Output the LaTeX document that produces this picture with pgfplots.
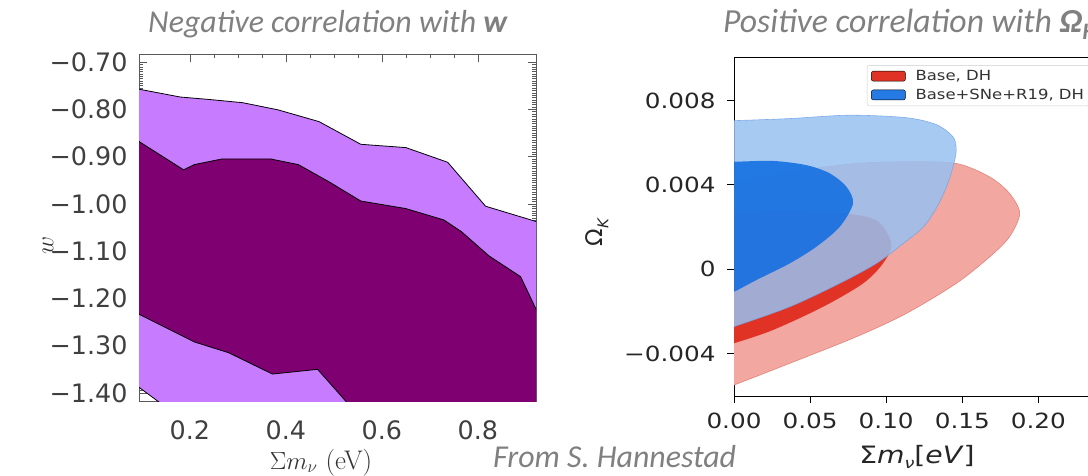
\documentclass[border=0pt]{standalone}
\usepackage{pgfplots}
\pgfplotsset{compat=1.18}
\usepackage{fontspec}
\setmainfont{Carlito}
\newfontfamily\carl{Carlito}
\newfontfamily\dv{DejaVu Sans}
\newfontfamily\dvw[FakeStretch=1.18]{DejaVu Sans}
\newfontfamily\lmr{Latin Modern Roman}
\definecolor{lpurp}{RGB}{199,123,255}
\definecolor{dpurp}{RGB}{127,0,112}
\definecolor{tgray}{RGB}{128,128,128}
\definecolor{lred}{RGB}{242,167,160}
\definecolor{lrededge}{RGB}{228,130,122}
\definecolor{dred}{RGB}{225,51,37}
\definecolor{lblue}{RGB}{152,193,241}
\definecolor{lblueedge}{RGB}{110,160,230}
\definecolor{dblue}{RGB}{13,107,225}
\begin{document}
\begin{tikzpicture}
\path[use as bounding box] (0bp,0bp) rectangle (1088bp,476bp);
\clip (0bp,0bp) rectangle (1088bp,476bp);

% ---------------- left panel ----------------
\begin{axis}[
  at={(139bp,75bp)}, anchor=south west,
  scale only axis, width=397bp, height=347bp,
  xmin=0.094, xmax=0.921, ymin=-1.417, ymax=-0.683,
  axis line style={draw=black!65, line width=0.6pt},
  tick align=inside,
  xtick={0.2,0.4,0.6,0.8},
  xticklabels={0.2,0.4,0.6,0.8},
  minor x tick num=3,
  ytick={-1.4,-1.3,-1.2,-1.1,-1.0,-0.9,-0.8,-0.7},
  yticklabels={−1.40,−1.30,−1.20,−1.10,−1.00,−0.90,−0.80,−0.70},
  minor y tick num=19,
  major tick length=8bp, minor tick length=4bp,
  tick style={black!65, line width=0.5pt},
  ticklabel style={font=\dv\fontsize{25.5}{25.5}\selectfont, text=black!75},
  xticklabel style={yshift=-16bp},
  yticklabel style={xshift=-8bp},
]
\addplot[fill=lpurp, draw=none] coordinates {
 (0.09,-0.756) (0.097,-0.758) (0.18,-0.774) (0.238,-0.779) (0.31,-0.786)
 (0.383,-0.801) (0.469,-0.826) (0.556,-0.874) (0.65,-0.881) (0.737,-0.912)
 (0.816,-1.005) (0.93,-1.040) (0.93,-1.43) (0.150,-1.43) (0.09,-1.385)} -- cycle;
\addplot[fill=dpurp, draw=none] coordinates {
 (0.09,-0.8655) (0.097,-0.870) (0.187,-0.928) (0.209,-0.917) (0.267,-0.905)
 (0.368,-0.905) (0.426,-0.917) (0.491,-0.954) (0.556,-0.994) (0.65,-1.010)
 (0.729,-1.034) (0.766,-1.059) (0.823,-1.110) (0.889,-1.154) (0.923,-1.227)
 (0.93,-1.242) (0.93,-1.43) (0.532,-1.43) (0.527,-1.42) (0.466,-1.350)
 (0.372,-1.360) (0.281,-1.315) (0.209,-1.292) (0.097,-1.235) (0.09,-1.232)} -- cycle;
\addplot[black, line width=0.8pt] coordinates {
 (0.09,-0.756) (0.097,-0.758) (0.18,-0.774) (0.238,-0.779) (0.31,-0.786)
 (0.383,-0.801) (0.469,-0.826) (0.556,-0.874) (0.65,-0.881) (0.737,-0.912)
 (0.816,-1.005) (0.93,-1.040)};
\addplot[black, line width=0.8pt] coordinates {
 (0.09,-0.8655) (0.097,-0.870) (0.187,-0.928) (0.209,-0.917) (0.267,-0.905)
 (0.368,-0.905) (0.426,-0.917) (0.491,-0.954) (0.556,-0.994) (0.65,-1.010)
 (0.729,-1.034) (0.766,-1.059) (0.823,-1.110) (0.889,-1.154) (0.923,-1.227)
 (0.93,-1.242)};
\addplot[black, line width=0.8pt] coordinates {
 (0.09,-1.232) (0.097,-1.235) (0.209,-1.292) (0.281,-1.315) (0.372,-1.360)
 (0.466,-1.350) (0.527,-1.42) (0.532,-1.43)};
\addplot[black, line width=0.8pt] coordinates {(0.09,-1.385) (0.150,-1.43)};
\end{axis}

% ---------------- right panel ----------------
\begin{axis}[
  at={(734bp,80bp)}, anchor=south west,
  scale only axis, width=380.5bp, height=339bp,
  xmin=0, xmax=0.25, ymin=-6.02, ymax=10.06,
  axis line style={draw=black, line width=0.9pt},
  tick align=outside, tick pos=left,
  xtick={0,0.05,0.1,0.15,0.2},
  xticklabels={0.00,0.05,0.10,0.15,0.20},
  ytick={-4,0,4,8},
  yticklabels={−0.004,0,0.004,0.008},
  major tick length=7bp,
  tick style={black, line width=0.8pt},
  ticklabel style={font=\dvw\fontsize{21}{21}\selectfont, text=black!85},
  xticklabel style={yshift=-6bp},
  yticklabel style={xshift=-8bp},
  legend style={at={(axis description cs:0.3495,0.976)}, anchor=north west,
    draw=black!20, rounded corners=2bp, fill=white,
    font=\dvw\fontsize{14}{14}\selectfont, text=black!80,
    inner xsep=3bp, inner ysep=3bp, row sep=3bp, cells={anchor=west}},
  legend image code/.code={\fill[#1] (0bp,-5bp) rectangle (34bp,5bp); \path (-1bp,0bp) (42bp,0bp);},
]
\addplot[fill=lred, draw=lrededge, line width=0.6pt, smooth, tension=0.5, forget plot] coordinates {
 (-0.01,4.10) (0,4.14) (0.0366,4.61) (0.0804,5.01) (0.1133,5.09) (0.146,5.01)
 (0.168,4.37) (0.181,3.59) (0.1877,2.64) (0.181,1.53) (0.168,0.58) (0.146,-0.68)
 (0.1133,-2.10) (0.0804,-3.21) (0.0366,-4.47) (0,-5.5) (-0.01,-5.75)};
\addplot[fill=dred, draw=none, smooth, tension=0.5, forget plot] coordinates {
 (-0.01,2.71) (0,2.72) (0.0366,2.76) (0.0694,2.67) (0.0936,2.32) (0.1034,1.22)
 (0.0979,0.27) (0.0848,-0.68) (0.0585,-1.79) (0.0256,-2.89) (0,-3.52) (-0.01,-3.7)};
\addplot[fill=lblue, fill opacity=0.85, draw=lblueedge, draw opacity=0.8, line width=0.6pt, smooth, tension=0.5, forget plot] coordinates {
 (-0.01,7.02) (0,7.04) (0.0366,7.14) (0.076,7.3) (0.1133,7.18) (0.133,6.85)
 (0.1439,6.27) (0.146,5.64) (0.1439,4.85) (0.1396,3.9) (0.133,2.9) (0.1244,2.0)
 (0.1113,1.22) (0.0936,0.27) (0.0694,-0.68) (0.0366,-1.79) (0,-2.73) (-0.01,-2.95)};
\addplot[fill=dblue, fill opacity=0.85, draw=none, smooth, tension=0.5, forget plot] coordinates {
 (-0.01,5.09) (0,5.09) (0.0256,5.13) (0.0476,4.93) (0.0629,4.54) (0.0739,3.90)
 (0.0782,3.11) (0.0694,2.00) (0.0541,1.06) (0.0366,0.27) (0.0147,-0.52) (0,-1.08) (-0.01,-1.4)};
\addlegendimage{fill=dred}
\addlegendentry{Base, DH}
\addlegendimage{fill=dblue!90!white}
\addlegendentry{Base+SNe+R19, DH}
\end{axis}

% ---------------- axis labels ----------------
\node[anchor=base, inner sep=0pt, font=\lmr\fontsize{27}{27}\selectfont, text=black!80] at (321bp,7bp) {$\Sigma m_\nu$ (eV)};
\node[rotate=90, inner sep=0pt, font=\fontsize{33}{33}\selectfont, text=black!80] at (48bp,231bp) {$w$};
\node[anchor=base, inner sep=0pt, font=\dvw\fontsize{24}{24}\selectfont, text=black!85] at (917bp,13bp) {Σ\textit{m}\raisebox{-0.25em}{\fontsize{15}{15}\selectfont\textit{ν}}[\textit{eV}]};
\node[rotate=90, inner sep=0pt, font=\dv\fontsize{23}{23}\selectfont, text=black!85] at (597bp,244bp) {Ω\raisebox{-0.25em}{\fontsize{15}{15}\selectfont\textit{K}}};

% ---------------- texts ----------------
\node[anchor=base west, inner sep=0pt, font=\carl\itshape\fontsize{32}{32}\selectfont, text=tgray] at (148bp,443bp) {Negative correlation with \textbf{w}};
\node[anchor=base west, inner sep=0pt, font=\carl\itshape\fontsize{33.8}{33.8}\selectfont, text=tgray] at (723bp,443bp) {Positive correlation with \textbf{Ω}\textsubscript{\textbf{K}}};
\node[anchor=base west, inner sep=0pt, font=\carl\itshape\fontsize{32}{32}\selectfont, text=tgray] at (493bp,9bp) {From S. Hannestad};
\end{tikzpicture}
\end{document}
